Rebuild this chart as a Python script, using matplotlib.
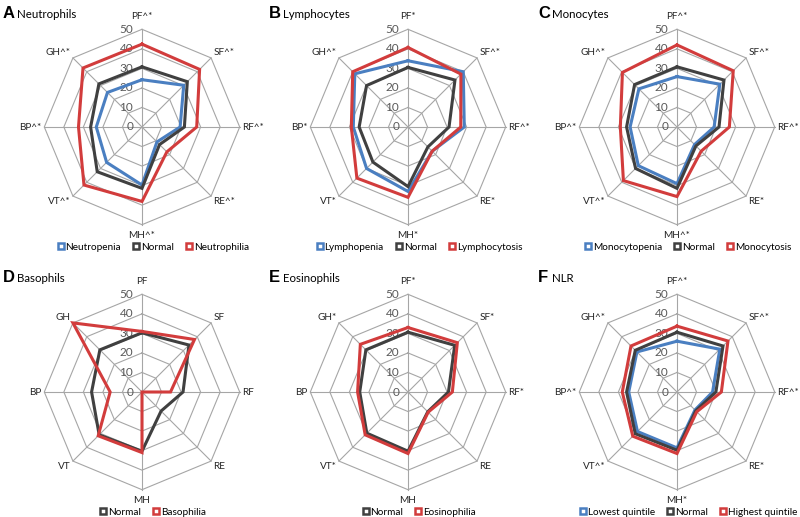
import numpy as np
import matplotlib.pyplot as plt
from matplotlib.lines import Line2D

plt.rcParams['font.family'] = ['Lato', 'DejaVu Sans']

# domains, clockwise from the top
domains = ['PF', 'SF', 'RF', 'RE', 'MH', 'VT', 'BP', 'GH']

BLUE = '#4a7fc1'
GRAY = '#404040'
RED = '#d23c3c'

# Panel A - Neutrophils
a_labels = ['PF^*', 'SF^*', 'RF^*', 'RE^*', 'MH^*', 'VT^*', 'BP^*', 'GH^*']
a_neutropenia = [24.2, 30.2, 19.5, 10.8, 29.7, 25.6, 23.4, 25.0]
a_normal = [30.8, 32.8, 21.7, 12.7, 31.4, 32.4, 26.3, 31.2]
a_neutrophilia = [42.4, 41.7, 28.0, 18.0, 38.1, 42.0, 32.5, 42.7]

# Panel B - Lymphocytes
b_labels = ['PF*', 'SF^*', 'RF^*', 'RE*', 'MH*', 'VT*', 'BP*', 'GH^*']
b_lymphopenia = [33.9, 40.0, 28.8, 17.5, 33.0, 30.0, 28.0, 38.5]
b_normal = [30.5, 34.0, 21.0, 14.4, 30.5, 25.4, 25.0, 30.0]
b_lymphocytosis = [40.7, 38.3, 27.0, 17.5, 36.0, 37.0, 29.0, 40.0]

# Panel C - Monocytes
c_labels = ['PF^*', 'SF^*', 'RF^*', 'RE*', 'MH^*', 'VT^*', 'BP^*', 'GH^*']
c_monocytopenia = [25.8, 31.0, 19.0, 12.7, 29.0, 28.0, 24.0, 27.6]
c_normal = [30.8, 34.0, 21.5, 13.7, 31.4, 30.0, 25.8, 30.7]
c_monocytosis = [42.0, 40.7, 26.8, 17.5, 35.6, 38.8, 29.0, 39.5]

# Panel D - Basophils
d_labels = ['PF', 'SF', 'RF', 'RE', 'MH', 'VT', 'BP', 'GH']
d_normal = [30.3, 34.0, 21.0, 13.8, 30.3, 31.0, 25.8, 30.5]
d_basophilia = [31.0, 38.0, 14.6, 0.0, 31.0, 31.7, 16.3, 50.0]

# Panel E - Eosinophils
e_labels = ['PF*', 'SF*', 'RF*', 'RE', 'MH', 'VT*', 'BP', 'GH*']
e_normal = [30.6, 33.8, 20.7, 14.3, 30.3, 29.8, 24.7, 30.5]
e_eosinophilia = [33.0, 35.7, 22.7, 14.6, 31.5, 31.0, 25.8, 34.5]

# Panel F - NLR
f_labels = ['PF^*', 'SF^*', 'RF^*', 'RE*', 'MH*', 'VT^*', 'BP^*', 'GH^*']
f_lowest = [26.0, 31.0, 18.2, 13.0, 28.6, 28.6, 24.7, 29.0]
f_normal = [30.6, 33.3, 19.9, 13.6, 29.8, 30.2, 25.8, 30.2]
f_highest = [33.7, 36.9, 22.7, 14.3, 31.5, 32.0, 28.0, 33.3]

panels = [
    ('A', 'Neutrophils', a_labels,
     [('Neutropenia', a_neutropenia, BLUE), ('Normal', a_normal, GRAY), ('Neutrophilia', a_neutrophilia, RED)]),
    ('B', 'Lymphocytes', b_labels,
     [('Lymphopenia', b_lymphopenia, BLUE), ('Normal', b_normal, GRAY), ('Lymphocytosis', b_lymphocytosis, RED)]),
    ('C', 'Monocytes', c_labels,
     [('Monocytopenia', c_monocytopenia, BLUE), ('Normal', c_normal, GRAY), ('Monocytosis', c_monocytosis, RED)]),
    ('D', 'Basophils', d_labels,
     [('Normal', d_normal, GRAY), ('Basophilia', d_basophilia, RED)]),
    ('E', 'Eosinophils', e_labels,
     [('Normal', e_normal, GRAY), ('Eosinophilia', e_eosinophilia, RED)]),
    ('F', 'NLR', f_labels,
     [('Lowest quintile', f_lowest, BLUE), ('Normal', f_normal, GRAY), ('Highest quintile', f_highest, RED)]),
]

rings = [10, 20, 30, 40, 50]

W, H = 800, 517
fig = plt.figure(figsize=(W / 100, H / 100), dpi=100)

centers = [(142, 127), (408, 127), (677, 127), (142, 392), (408, 392), (677, 392)]
half = 127          # half width of each axes in pixels
span = 65           # half width of each axes in data units

theta = np.arange(len(domains)) * 2 * np.pi / len(domains)
sx, sy = np.sin(theta), np.cos(theta)


def closed(v):
    return np.append(v, v[0])


for (letter, name, labels, series), (cx, cy) in zip(panels, centers):
    ax = fig.add_axes([(cx - half) / W, 1 - (cy + half) / H, 2 * half / W, 2 * half / H])
    ax.set_xlim(-span, span)
    ax.set_ylim(-span, span)
    ax.axis('off')

    # octagon grid and spokes
    for r in rings:
        ax.plot(closed(r * sx), closed(r * sy), color='#a6a6a6', lw=0.8, zorder=1)
    for x, y in zip(sx, sy):
        ax.plot([0, 50 * x], [0, 50 * y], color='#a6a6a6', lw=0.8, zorder=1)
    for r in [0] + rings:
        ax.text(-4.5, r, str(r), ha='right', va='center', fontsize=8.5, color='#595959', zorder=2)

    # data polygons
    handles = []
    for lab, vals, col in series:
        v = np.array(vals)
        ax.plot(closed(v * sx), closed(v * sy), color=col, lw=2.2, zorder=3,
                solid_joinstyle='miter')
        handles.append(Line2D([], [], ls='none', marker='s', ms=5, mfc='white',
                              mec=col, mew=1.8, label=lab))

    # domain labels
    pos = [(0, 54, 'center', 'bottom'), (36.5, 38, 'left', 'center'),
           (51.5, 0, 'left', 'center'), (36.5, -38, 'left', 'center'),
           (0, -55.3, 'center', 'center'), (-36.5, -38, 'right', 'center'),
           (-51.5, 0, 'right', 'center'), (-36.5, 38, 'right', 'center')]
    for lab, (x, y, ha, va) in zip(labels, pos):
        ax.text(x, y, lab, ha=ha, va=va, fontsize=7.2, color='#262626', clip_on=False)

    ax.legend(handles=handles, loc='center', bbox_to_anchor=(0.545, 0.027),
              ncol=len(handles), frameon=False, fontsize=7.2, handlelength=0.6,
              handletextpad=0.2, columnspacing=1.2, borderpad=0)

    # panel title
    fig.text((cx - 139) / W, 1 - (cy - 114) / H, letter, fontsize=12, fontweight='bold',
             ha='left', va='center', family='Liberation Sans')
    fig.text((cx - 125) / W, 1 - (cy - 113) / H, name, fontsize=8.3, ha='left', va='center')

fig.savefig('out.png', dpi=100)
